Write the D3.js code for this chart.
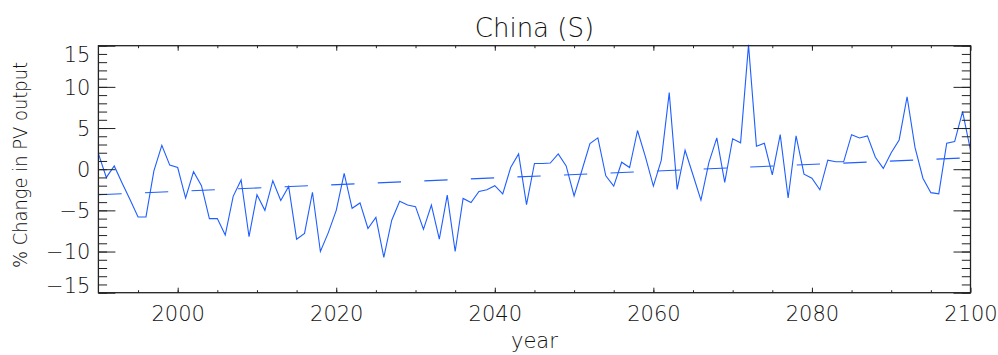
<!DOCTYPE html>
<html>
<head>
<meta charset="utf-8">
<script src="https://cdn.jsdelivr.net/npm/d3@7"></script>
<style>
    body { margin: 0; background: #fff; }
    svg text { font-family: "DejaVu Sans", sans-serif; font-weight: 200; fill: #111; }
</style>
</head>
<body>
<div id="chart"></div>
<script>
const years = d3.range(1990, 2101);

// % change in PV output, one value per year (1990 .. 2100)
const pvChange = [
    1.9, -1.0, 0.4, -1.7, -3.7, -5.8, -5.8, -0.2, 2.9, 0.5,          // 1990s
    0.2, -3.5, -0.3, -2.0, -6.0, -6.0, -8.0, -3.3, -1.3, -8.2,       // 2000s
    -3.1, -5.0, -1.4, -3.8, -2.1, -8.5, -7.8, -2.8, -10.0, -7.7,     // 2010s
    -5.0, -0.5, -4.75, -4.1, -7.2, -5.85, -10.7, -6.2, -3.9, -4.35,  // 2020s
    -4.55, -7.3, -4.35, -8.5, -3.15, -10.0, -3.55, -4.05, -2.7, -2.5,// 2030s
    -2.0, -3.0, 0.2, 1.85, -4.3, 0.7, 0.7, 0.75, 1.85, 0.4,          // 2040s
    -3.25, -0.1, 3.1, 3.8, -0.8, -2.05, 0.85, 0.2, 4.7, 1.5,         // 2050s
    -2.05, 1.1, 9.3, -2.45, 2.3, -0.7, -3.75, 0.8, 3.8, -1.6,        // 2060s
    3.7, 3.2, 15.1, 2.8, 3.15, -0.7, 4.2, -3.5, 4.05, -0.6,          // 2070s
    -1.1, -2.5, 1.1, 0.9, 0.9, 4.2, 3.8, 4.05, 1.45, 0.1,            // 2080s
    2.0, 3.55, 8.8, 2.65, -1.1, -2.85, -3.0, 3.15, 3.35, 7.0,        // 2090s
    2.3                                                              // 2100
];

// linear trend, start and end points
const trendYears = [1990, 2100];
const trendValues = [-3.1, 1.4];

const xMajorTicks = [2000, 2020, 2040, 2060, 2080, 2100];
const xMinorTicks = d3.range(1995, 2100, 5);
const yMajorTicks = [-15, -10, -5, 0, 5, 10, 15];
const yMinorTicks = d3.range(-15, 16, 1);

const width = 998, height = 355;
const margin = { top: 45.7, right: 27.5, bottom: 62.3, left: 98.4 };
const w = width - margin.left - margin.right;
const h = height - margin.top - margin.bottom;

const svg = d3.select("#chart").append("svg")
    .attr("width", width)
    .attr("height", height);

const g = svg.append("g")
    .attr("transform", `translate(${margin.left},${margin.top})`);

const x = d3.scaleLinear().domain([1990, 2100]).range([0, w]);
const y = d3.scaleLinear().domain([-15, 15]).range([h, 0]);

// data line
const line = d3.line()
    .x((d, i) => x(years[i]))
    .y(d => y(d));

g.append("path")
    .datum(pvChange)
    .attr("fill", "none")
    .attr("stroke", "#1f5eff")
    .attr("stroke-width", 1.1)
    .attr("stroke-linejoin", "miter")
    .attr("d", line);

// dashed trend line
g.append("path")
    .datum(trendValues)
    .attr("fill", "none")
    .attr("stroke", "#1f5eff")
    .attr("stroke-width", 1.1)
    .attr("stroke-dasharray", "23.3,23.3")
    .attr("d", d3.line().x((d, i) => x(trendYears[i])).y(d => y(d)));

// axes, IDL style: ticks point inward on all four sides
function styleAxis(sel) {
    sel.select(".domain").remove();
    sel.selectAll(".tick line").attr("stroke", "#222").attr("stroke-width", 1);
}

g.append("g").attr("transform", `translate(0,${h})`)
    .call(d3.axisBottom(x).tickValues(xMinorTicks).tickSize(-2.5).tickFormat(""))
    .call(styleAxis);
g.append("g").attr("transform", `translate(0,${h})`)
    .call(d3.axisBottom(x).tickValues(xMajorTicks).tickSize(-5).tickPadding(13).tickFormat(d3.format("d")))
    .call(styleAxis)
    .selectAll("text").attr("font-size", 21);

g.append("g")
    .call(d3.axisTop(x).tickValues(xMinorTicks).tickSize(-2.5).tickFormat(""))
    .call(styleAxis);
g.append("g")
    .call(d3.axisTop(x).tickValues(xMajorTicks).tickSize(-5).tickFormat(""))
    .call(styleAxis);

g.append("g")
    .call(d3.axisLeft(y).tickValues(yMinorTicks).tickSize(-8.7).tickFormat(""))
    .call(styleAxis);
g.append("g")
    .call(d3.axisLeft(y).tickValues(yMajorTicks).tickSize(-17).tickPadding(8)
        .tickFormat(d => d < 0 ? "\u2212" + Math.abs(d) : d))
    .call(styleAxis)
    .selectAll("text")
    .attr("font-size", 21)
    .attr("dy", d => d === 15 ? "0.75em" : d === -15 ? "0.0em" : "0.35em");

g.append("g").attr("transform", `translate(${w},0)`)
    .call(d3.axisRight(y).tickValues(yMinorTicks).tickSize(-8.7).tickFormat(""))
    .call(styleAxis);
g.append("g").attr("transform", `translate(${w},0)`)
    .call(d3.axisRight(y).tickValues(yMajorTicks).tickSize(-17).tickFormat(""))
    .call(styleAxis);

// frame
g.append("rect")
    .attr("width", w)
    .attr("height", h)
    .attr("fill", "none")
    .attr("stroke", "#222")
    .attr("stroke-width", 1.3);

// title and axis labels
svg.append("text")
    .attr("x", margin.left + w / 2)
    .attr("y", 37)
    .attr("text-anchor", "middle")
    .attr("font-size", 26)
    .text("China (S)");

svg.append("text")
    .attr("x", margin.left + w / 2)
    .attr("y", 348)
    .attr("text-anchor", "middle")
    .attr("font-size", 21)
    .text("year");

svg.append("text")
    .attr("transform", `translate(27,165) rotate(-90)`)
    .attr("text-anchor", "middle")
    .attr("font-size", 20)
    .attr("textLength", 206)
    .attr("lengthAdjust", "spacingAndGlyphs")
    .text("% Change in PV output");
</script>
</body>
</html>
